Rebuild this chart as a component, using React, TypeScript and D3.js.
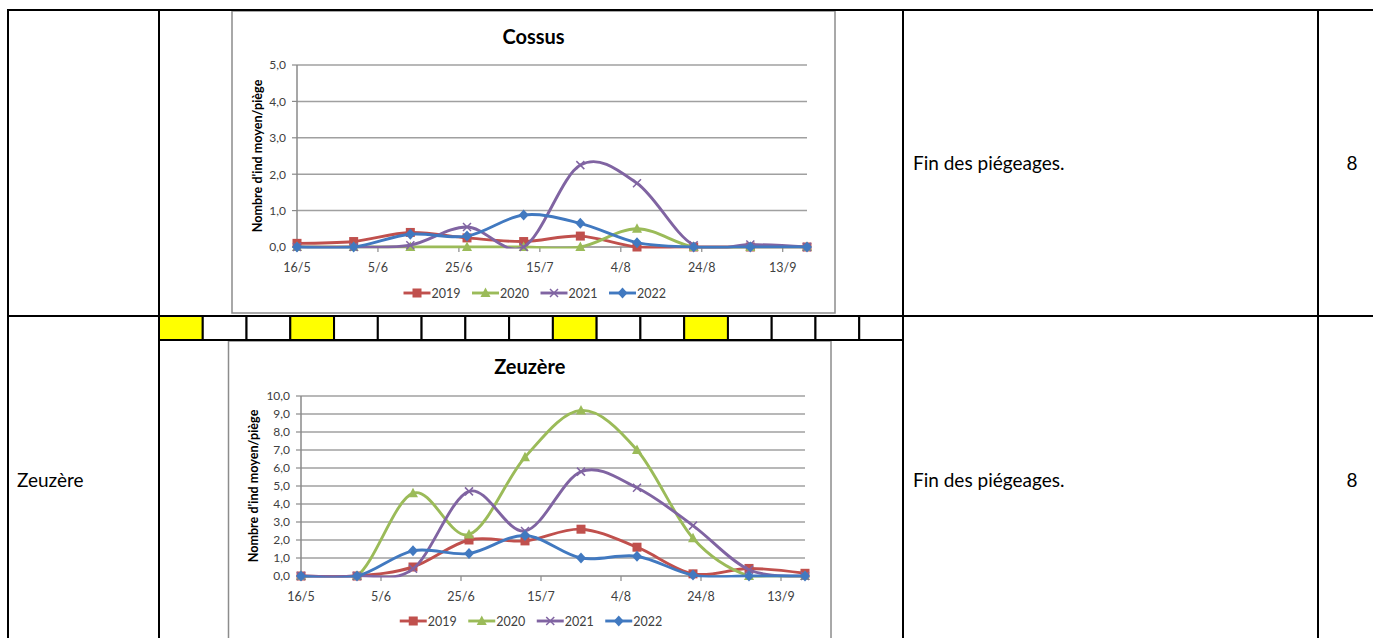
import React from 'react';
import * as d3 from 'd3';

const sampleDates = ['16/5', '30/5', '13/6', '27/6', '11/7', '25/7', '8/8', '22/8', '5/9', '19/9'];
const tickDates = ['16/5', '5/6', '25/6', '15/7', '4/8', '24/8', '13/9'];
const years = ['2019', '2020', '2021', '2022'];

const cossus2019 = [0.1, 0.15, 0.4, 0.25, 0.15, 0.3, 0, 0, 0, 0];
const cossus2020 = [0, 0, 0, 0, 0, 0, 0.5, 0, 0, 0];
const cossus2021 = [0, 0, 0.05, 0.55, 0, 2.25, 1.75, 0.05, 0.07, 0];
const cossus2022 = [0, 0, 0.35, 0.3, 0.88, 0.65, 0.12, 0, 0, 0];

const zeuzere2019 = [0, 0, 0.5, 2.0, 1.95, 2.6, 1.6, 0.12, 0.42, 0.15];
const zeuzere2020 = [0, 0, 4.6, 2.3, 6.6, 9.2, 7.0, 2.1, 0, 0];
const zeuzere2021 = [0, 0, 0.4, 4.7, 2.5, 5.8, 4.9, 2.8, 0.35, 0];
const zeuzere2022 = [0, 0, 1.4, 1.25, 2.25, 1.0, 1.1, 0.05, 0, 0];

const cossusTicks = [0, 1, 2, 3, 4, 5];
const zeuzereTicks = [0, 1, 2, 3, 4, 5, 6, 7, 8, 9, 10];

const weekCells = 17;
const yellowCells = [0, 3, 9, 12];
// ————————————————————————————————

const FONT = 'Lato, "Open Sans", sans-serif';
const colors = ['#C0504D', '#9BBB59', '#8064A2', '#4179C0'];
const markers = ['square', 'triangle', 'cross', 'diamond'];

const parse = d3.timeParse('%d/%m/%Y');
const toDate = (s: string) => parse(`${s}/2022`) as Date;
const fmt = (v: number) => d3.format('.1f')(v).replace('.', ',');

function Marker({ kind, cx, cy, color }: { kind: string; cx: number; cy: number; color: string }) {
  if (kind === 'square')
    return <rect x={cx - 4.5} y={cy - 4.5} width={9} height={9} fill={color} />;
  if (kind === 'triangle')
    return <path d={`M${cx},${cy - 5.5}L${cx + 5},${cy + 4}L${cx - 5},${cy + 4}Z`} fill={color} />;
  if (kind === 'diamond')
    return <path d={`M${cx},${cy - 5.5}L${cx + 5},${cy}L${cx},${cy + 5.5}L${cx - 5},${cy}Z`} fill={color} />;
  return (
    <path d={`M${cx - 4},${cy - 4}L${cx + 4},${cy + 4}M${cx - 4},${cy + 4}L${cx + 4},${cy - 4}`}
      stroke={color} strokeWidth={1.5} fill="none" />
  );
}

type ChartProps = {
  id: string;
  box: { x: number; y: number; w: number; h: number };
  plot: { left: number; right: number; top: number; bottom: number };
  title: string;
  titleY: number;
  yTicks: number[];
  series: number[][];
  axisTitleX: number;
  legendY: number;
};

function TrapChart({ id, box, plot, title, titleY, yTicks, series, axisTitleX, legendY }: ChartProps) {
  const x = d3.scaleTime()
    .domain([toDate(sampleDates[0]), toDate(sampleDates[sampleDates.length - 1])])
    .range([plot.left, plot.right]);
  const y = d3.scaleLinear()
    .domain([0, d3.max(yTicks) as number])
    .range([plot.bottom, plot.top]);

  // Excel-like smoothed line
  const line = d3.line<number>()
    .x((_, i) => x(toDate(sampleDates[i])))
    .y(d => y(d))
    .curve(d3.curveCardinal.tension(0));

  const cx = box.x + box.w / 2;
  const legendStart = cx - 130;

  return (
    <g fontFamily={FONT}>
      <defs>
        <clipPath id={`clip-${id}`}>
          <rect x={plot.left - 10} y={plot.top - 10} width={plot.right - plot.left + 20} height={plot.bottom - plot.top + 11.5} />
        </clipPath>
      </defs>
      <rect x={box.x} y={box.y} width={box.w} height={box.h} fill="#fff" stroke="#8C8C8C" strokeWidth={1.5} />
      <text x={cx} y={titleY} textAnchor="middle" fontSize={20} fontWeight="bold" fill="#000">{title}</text>

      {/* gridlines */}
      {yTicks.filter(t => t > 0).map(t => (
        <line key={t} x1={plot.left} x2={plot.right} y1={y(t)} y2={y(t)} stroke="#A0A0A0" strokeWidth={1.5} />
      ))}

      {/* y axis */}
      <line x1={plot.left} x2={plot.left} y1={plot.top} y2={plot.bottom} stroke="#8A8A8A" strokeWidth={1.5} />
      {yTicks.map(t => (
        <g key={t}>
          <line x1={plot.left - 5} x2={plot.left} y1={y(t)} y2={y(t)} stroke="#8A8A8A" strokeWidth={1.2} />
          <text x={plot.left - 11} y={y(t) + 4.3} textAnchor="end" fontSize={12} fill="#404040">{fmt(t)}</text>
        </g>
      ))}
      <text transform={`translate(${axisTitleX},${(plot.top + plot.bottom) / 2}) rotate(-90)`}
        textAnchor="middle" fontSize={12.6} fontWeight="bold" fill="#000">Nombre d'ind moyen/piège</text>

      {/* x axis */}
      <line x1={plot.left} x2={plot.right} y1={plot.bottom} y2={plot.bottom} stroke="#8A8A8A" strokeWidth={1.5} />
      {tickDates.map(t => (
        <g key={t}>
          <line x1={x(toDate(t))} x2={x(toDate(t))} y1={plot.bottom} y2={plot.bottom + 5} stroke="#8A8A8A" strokeWidth={1.2} />
          <text x={x(toDate(t))} y={plot.bottom + 25} textAnchor="middle" fontSize={12.5} fill="#404040">{t}</text>
        </g>
      ))}

      {/* series */}
      {series.map((vals, si) => (
        <g key={years[si]}>
          <path d={line(vals) ?? ''} fill="none" stroke={colors[si]} strokeWidth={2.9} clipPath={`url(#clip-${id})`} />
          {vals.map((v, i) => (
            <Marker key={i} kind={markers[si]} cx={x(toDate(sampleDates[i]))} cy={y(v)} color={colors[si]} />
          ))}
        </g>
      ))}

      {/* legend */}
      {years.map((yr, si) => {
        const lx = legendStart + si * 68.5;
        return (
          <g key={yr}>
            <line x1={lx} x2={lx + 27} y1={legendY} y2={legendY} stroke={colors[si]} strokeWidth={2.9} />
            <Marker kind={markers[si]} cx={lx + 13.5} cy={legendY} color={colors[si]} />
            <text x={lx + 28} y={legendY + 4.5} fontSize={12.5} fill="#404040">{yr}</text>
          </g>
        );
      })}
    </g>
  );
}

export default function App() {
  const W = 1373;
  const H = 638;
  const cellW = (903 - 159) / weekCells;

  return (
    <div style={{ position: 'absolute', left: 0, top: 0 }}>
      <svg width={W} height={H} style={{ display: 'block', background: '#fff' }}>
        <TrapChart
          id="cossus"
          box={{ x: 232, y: 11, w: 603, h: 302 }}
          plot={{ left: 297, right: 807, top: 65, bottom: 247 }}
          title="Cossus"
          titleY={44}
          yTicks={cossusTicks}
          series={[cossus2019, cossus2020, cossus2021, cossus2022]}
          axisTitleX={262}
          legendY={293}
        />
        <TrapChart
          id="zeuzere"
          box={{ x: 228.5, y: 341, w: 602.5, h: 300 }}
          plot={{ left: 301, right: 805, top: 396, bottom: 576 }}
          title="Zeuzère"
          titleY={374}
          yTicks={zeuzereTicks}
          series={[zeuzere2019, zeuzere2020, zeuzere2021, zeuzere2022]}
          axisTitleX={258}
          legendY={621}
        />

        {/* week strip */}
        {d3.range(weekCells).map(i => (
          <rect key={i} x={159 + i * cellW} y={316} width={cellW} height={24}
            fill={yellowCells.includes(i) ? '#FFFF00' : '#fff'} stroke="#000" strokeWidth={2} />
        ))}

        {/* table rules */}
        <g stroke="#000" strokeWidth={2}>
          <line x1={8} x2={W} y1={10} y2={10} />
          <line x1={8} x2={W} y1={316} y2={316} />
          <line x1={8} x2={8} y1={9} y2={H} />
          <line x1={159} x2={159} y1={9} y2={H} />
          <line x1={903} x2={903} y1={9} y2={H} />
          <line x1={1318} x2={1318} y1={9} y2={H} />
        </g>

        <g fontFamily={FONT} fontSize={19} fill="#000">
          <text x={17} y={487}>Zeuzère</text>
          <text x={913} y={170}>Fin des piégeages.</text>
          <text x={1352} y={170} textAnchor="middle">8</text>
          <text x={913} y={487}>Fin des piégeages.</text>
          <text x={1352} y={487} textAnchor="middle">8</text>
        </g>
      </svg>
    </div>
  );
}
